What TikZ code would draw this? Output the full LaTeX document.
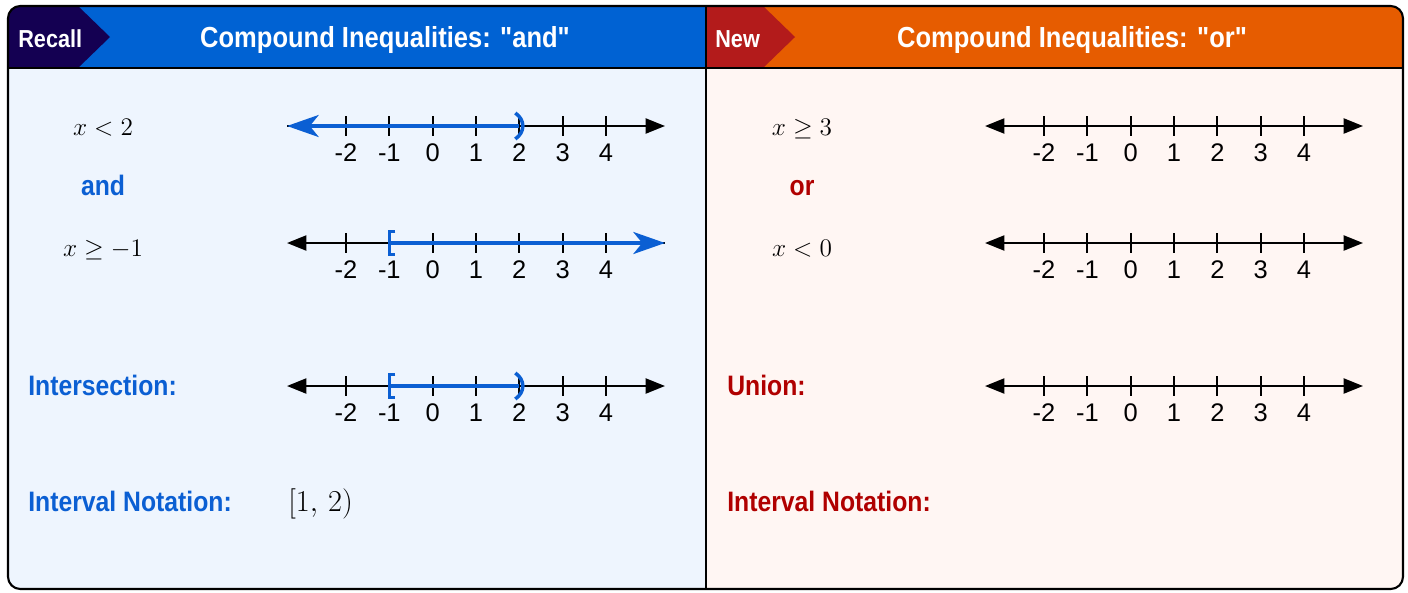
\documentclass[tikz,border=0pt]{standalone}
\usepackage[no-math]{fontspec}
\usepackage{amsmath,amssymb}
\usepackage{tikz}
\usetikzlibrary{arrows.meta}

\newfontfamily\headfont[FakeStretch=0.88, Ligatures=TeXOff]{Liberation Sans}
\newfontfamily\numfont{Liberation Sans}

\definecolor{navy}{HTML}{140052}
\definecolor{hdblue}{HTML}{0062D3}
\definecolor{hdorange}{HTML}{E65C00}
\definecolor{newred}{HTML}{B31B1B}
\definecolor{bgblue}{HTML}{EEF5FE}
\definecolor{bgpink}{HTML}{FFF6F3}
\definecolor{txtblue}{HTML}{0B5FD3}
\definecolor{txtred}{HTML}{B00000}

\begin{document}
\begin{tikzpicture}[x=0.02cm, y=-0.02cm,
	>={Triangle[length=11pt,width=8.5pt]},
	hd/.style={font=\headfont\bfseries\fontsize{16.5}{18}\selectfont, text=white, inner sep=0pt, anchor=base},
	tag/.style={font=\headfont\bfseries\fontsize{14}{16}\selectfont, text=white, inner sep=0pt, anchor=base west},
	lbl/.style={font=\headfont\bfseries\fontsize{16}{18}\selectfont, inner sep=0pt, anchor=base west},
	ineq/.style={font=\fontsize{15.5}{18}\selectfont, inner sep=0pt, anchor=base},
	numlab/.style={font=\numfont\fontsize{14.5}{16}\selectfont, inner sep=0pt},
	axis/.style={line width=1.3pt}, both/.style={<->}, rgt/.style={->}, lft/.style={<-},
	tick/.style={line width=1.1pt},
	sol/.style={draw=txtblue, line width=2pt},
	soltip/.style={sol, -{Stealth[length=18pt,width=12.5pt,inset=5pt]}}]
	\useasboundingbox (0,0) rectangle (1408,592);

	% panels and header bars
	\begin{scope}
		\clip[rounded corners=7pt] (8,6) rectangle (1403,589);
		\fill[bgblue] (8,6) rectangle (706,589);
		\fill[bgpink] (706,6) rectangle (1403,589);
		\fill[hdblue] (8,6) rectangle (706,68);
		\fill[hdorange] (706,6) rectangle (1403,68);
		\fill[navy] (8,6) -- (78,6) -- (110,37) -- (78,68) -- (8,68) -- cycle;
		\fill[newred] (706,6) -- (763,6) -- (795,37) -- (763,68) -- (706,68) -- cycle;
	\end{scope}
	\draw[line width=1.1pt] (8,68) -- (1403,68) (706,6) -- (706,589);
	\draw[line width=1.2pt, rounded corners=7pt] (8,6) rectangle (1403,589);

	\node[tag] (recall) at (18,47) {Recall};
	\node[tag] (newtag) at (715,47) {New};
	\node[hd] (andtitle) at (385,47) {Compound Inequalities: "and"};
	\node[hd] (ortitle) at (1072,47) {Compound Inequalities: "or"};

	% left panel
	\node[ineq] (ineqA) at (103,135) {$x<2$};
	\node[lbl, anchor=base, text=txtblue] (andword) at (103,195) {and};
	\node[ineq] (ineqB) at (103,256) {$x\geq -1$};
	\node[lbl, text=txtblue] (interlbl) at (28,395) {Intersection:};
	\node[lbl, text=txtblue] (intvA) at (28,511) {Interval Notation:};
	\node[ineq, anchor=base west, font=\fontsize{17}{20}\selectfont] (answer) at (288,511) {$[1,\,2)$};

	% right panel
	\node[ineq] (ineqC) at (802,135) {$x\geq 3$};
	\node[lbl, anchor=base, text=txtred] (orword) at (802,195) {or};
	\node[ineq] (ineqD) at (802,256) {$x<0$};
	\node[lbl, text=txtred] (unionlbl) at (727,395) {Union:};
	\node[lbl, text=txtred] (intvB) at (727,511) {Interval Notation:};

	% number lines
	\foreach \nl/\dx/\dy/\tips in {a1/0/126/rgt, a2/0/243/lft, a3/0/386/both, b1/698/126/both, b2/698/243/both, b3/698/386/both}{
		\begin{scope}[shift={(\dx,\dy)}]
			\coordinate (\nl-L) at (287,0); \coordinate (\nl-R) at (665,0);
			\draw[axis,\tips] (\nl-L) -- (\nl-R);
			\foreach \v [count=\i] in {-2,...,4}{
				\coordinate (\nl-t\i) at ({346+43.33*(\i-1)},0);
				\draw[tick] (\nl-t\i) ++(0,-10) -- ++(0,20);
				\node[numlab] (\nl-n\i) at ({346+43.33*(\i-1)},27) {\v};
			}
		\end{scope}
	}

	% solution sets
	\draw[soltip] (a1-t5) -- (a1-L);
	\draw[soltip] (a2-t2) -- (a2-R);
	\draw[sol] (a3-t2) -- (a3-t5);
	\foreach \c in {a1-t5, a3-t5}
		\draw[sol] ([shift={(-4,-13)}]\c) .. controls ([shift={(6,-6)}]\c) and ([shift={(6,6)}]\c) .. ([shift={(-4,13)}]\c);
	\foreach \c in {a2-t2, a3-t2}
		\draw[sol] ([shift={(6,-11.5)}]\c) -- ([shift={(0,-11.5)}]\c) -- ([shift={(0,11.5)}]\c) -- ([shift={(6,11.5)}]\c);
\end{tikzpicture}
\end{document}
